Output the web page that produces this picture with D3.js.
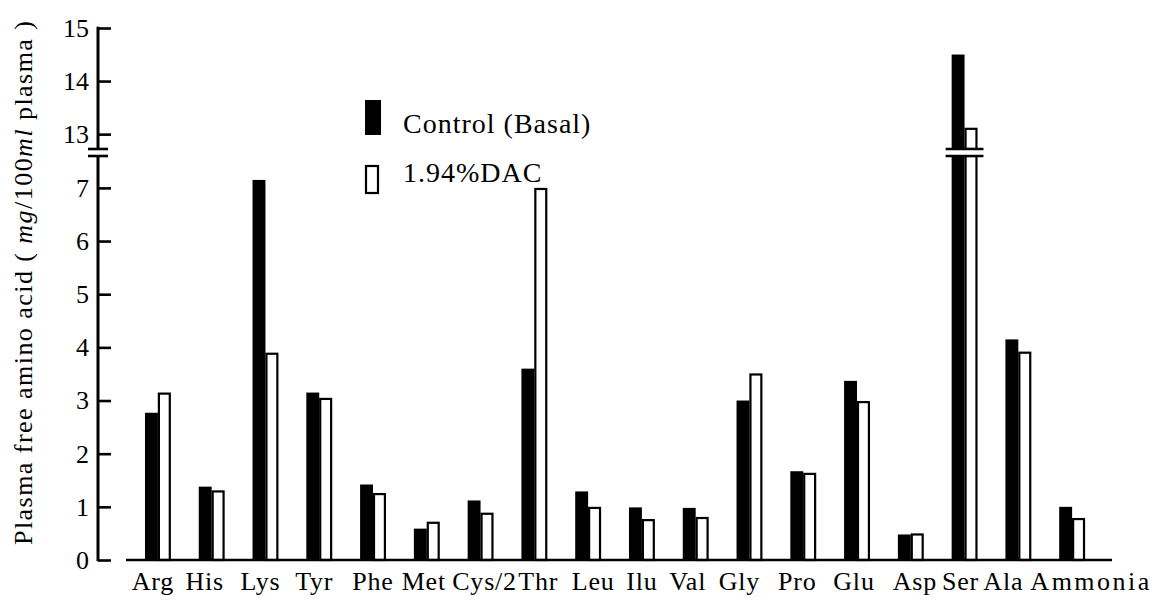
<!DOCTYPE html>
<html>
<head>
<meta charset="utf-8">
<script src="https://cdn.jsdelivr.net/npm/d3@7"></script>
<style>
  body { margin: 0; background: #fff; }
  svg { display: block; }
</style>
</head>
<body>
<svg id="chart" width="1157" height="602"></svg>
<script>
const categories = ["Arg", "His", "Lys", "Tyr", "Phe", "Met", "Cys/2", "Thr", "Leu", "Ilu", "Val", "Gly", "Pro", "Glu", "Asp", "Ser", "Ala", "Ammonia"]
const controlValues = [2.77, 1.38, 7.15, 3.15, 1.42, 0.59, 1.12, 3.6, 1.29, 0.99, 0.98, 3.0, 1.67, 3.37, 0.48, 14.5, 4.15, 1.0]
const dacValues = [3.13, 1.29, 3.88, 3.03, 1.24, 0.70, 0.87, 6.98, 0.98, 0.75, 0.79, 3.49, 1.62, 2.97, 0.48, 13.1, 3.9, 0.77]
const seriesNames = ["Control (Basal)", "1.94%DAC"]
const lowerTicks = [0, 1, 2, 3, 4, 5, 6, 7]
const upperTicks = [13, 14, 15]
const lowerDomain = [0, 7.6]
const upperDomain = [12.72, 15]

const serif = '"Liberation Serif", "Times New Roman", serif'
const svg = d3.select("#chart")

const axisX = 98
const base = 560
const breakLow = 156   // top of lower segment
const breakHigh = 149  // bottom of upper segment

const x = d3.scaleBand()
  .domain(categories)
  .range([131, 1099])
  .paddingInner(0.52)
  .paddingOuter(0.26)

const xSub = d3.scaleBand()
  .domain([0, 1])
  .range([0, x.bandwidth()])

const yLow = d3.scaleLinear().domain(lowerDomain).range([base, breakLow])
const yHigh = d3.scaleLinear().domain(upperDomain).range([breakHigh, 28])

// build bar pieces, split across the break when needed
const bars = []
categories.forEach((c, i) => {
  [controlValues[i], dacValues[i]].forEach((v, s) => {
    const x0 = x(c) + xSub(s)
    if (v <= lowerDomain[1]) {
      bars.push({s, x0, y0: yLow(v), y1: base})
    } else {
      bars.push({s, x0, y0: yLow(lowerDomain[1]), y1: base})
      bars.push({s, x0, y0: yHigh(v), y1: yHigh(upperDomain[0])})
    }
  })
})

const w = xSub.bandwidth()

svg.append("g")
  .selectAll("rect")
  .data(bars)
  .join("rect")
  .attr("x", d => d.s === 0 ? d.x0 : d.x0 + 1)
  .attr("y", d => d.y0)
  .attr("width", d => d.s === 0 ? w : w - 2)
  .attr("height", d => d.y1 - d.y0)
  .attr("fill", d => d.s === 0 ? "#000" : "#fff")
  .attr("stroke", d => d.s === 0 ? "none" : "#000")
  .attr("stroke-width", 2.2)

// break marks across bars that go past the gap
const broken = categories.filter((c, i) => Math.max(controlValues[i], dacValues[i]) > lowerDomain[1])
const brk = svg.append("g")
broken.forEach(c => {
  const bx0 = x(c) - 6, bx1 = x(c) + x.bandwidth() + 6
  brk.append("rect").attr("x", bx0).attr("y", breakHigh).attr("width", bx1 - bx0).attr("height", breakLow - breakHigh).attr("fill", "#fff")
  brk.selectAll(null).data([breakHigh, breakLow]).join("line")
    .attr("x1", bx0).attr("x2", bx1).attr("y1", d => d).attr("y2", d => d)
    .attr("stroke", "#000").attr("stroke-width", 2.6)
})

// baseline
svg.append("line")
  .attr("x1", 126).attr("x2", 1112)
  .attr("y1", base).attr("y2", base)
  .attr("stroke", "#000").attr("stroke-width", 2.6)

// y axis, lower and upper segments
function styleAxis(g) {
  g.select(".domain").remove()
  g.selectAll(".tick line").attr("stroke", "#000").attr("stroke-width", 2.6)
  g.selectAll(".tick text").attr("font-size", 26).attr("fill", "#000").style("font-family", serif)
}

svg.append("g")
  .attr("transform", `translate(${axisX},0)`)
  .call(d3.axisLeft(yLow).tickValues(lowerTicks).tickSizeInner(-13).tickSizeOuter(0).tickPadding(9).tickFormat(d3.format("d")))
  .call(styleAxis)

svg.append("g")
  .attr("transform", `translate(${axisX},0)`)
  .call(d3.axisLeft(yHigh).tickValues(upperTicks).tickSizeInner(-13).tickSizeOuter(0).tickPadding(9).tickFormat(d3.format("d")))
  .call(styleAxis)

svg.append("line")
  .attr("x1", axisX).attr("x2", axisX)
  .attr("y1", yLow(0) + 1.3).attr("y2", breakLow)
  .attr("stroke", "#000").attr("stroke-width", 3)
svg.append("line")
  .attr("x1", axisX).attr("x2", axisX)
  .attr("y1", breakHigh).attr("y2", yHigh(15) - 1.3)
  .attr("stroke", "#000").attr("stroke-width", 3)
svg.append("g")
  .selectAll("line")
  .data([breakHigh, breakLow])
  .join("line")
  .attr("x1", axisX - 10).attr("x2", axisX + 10)
  .attr("y1", d => d).attr("y2", d => d)
  .attr("stroke", "#000").attr("stroke-width", 2.6)

// x axis labels (the printed labels sit a little off the bar centres)
const labelNudge = {"Arg": -5, "His": -7, "Lys": -5, "Tyr": -5, "Met": -3, "Cys/2": 4, "Thr": 4, "Leu": 5,
  "Val": -8, "Gly": -10, "Pro": -6, "Glu": -3, "Asp": 4, "Ser": -4, "Ala": -15, "Ammonia": 19}
const gx = svg.append("g")
  .attr("transform", `translate(0,${base})`)
  .call(d3.axisBottom(x).tickSize(0).tickPadding(12))
gx.select(".domain").remove()
gx.selectAll(".tick text")
  .attr("font-size", 26)
  .style("font-family", serif)
  .attr("letter-spacing", d => d === "Ammonia" ? 2.5 : 0.8)
  .attr("fill", "#000")
  .attr("dx", d => labelNudge[d] || 0)

// y title
const title = svg.append("text")
  .attr("transform", "translate(32,283) rotate(-90)")
  .attr("text-anchor", "middle")
  .attr("font-size", 26)
  .style("font-family", serif)
  .attr("textLength", 524)
  .attr("lengthAdjust", "spacing")
title.append("tspan").text("Plasma free amino acid ( ")
title.append("tspan").attr("font-style", "italic").text("mg")
title.append("tspan").text("/100")
title.append("tspan").attr("font-style", "italic").text("ml")
title.append("tspan").text(" plasma )")

// legend
const legend = svg.append("g")
legend.selectAll("rect")
  .data(seriesNames)
  .join("rect")
  .attr("x", (d, i) => i === 0 ? 365 : 366)
  .attr("y", (d, i) => i === 0 ? 100 : 166)
  .attr("width", (d, i) => i === 0 ? 16 : 12)
  .attr("height", (d, i) => i === 0 ? 35 : 27)
  .attr("fill", (d, i) => i === 0 ? "#000" : "#fff")
  .attr("stroke", "#000")
  .attr("stroke-width", (d, i) => i === 0 ? 0 : 2.2)
legend.selectAll("text")
  .data(seriesNames)
  .join("text")
  .attr("x", 403)
  .attr("y", (d, i) => i === 0 ? 133 : 182)
  .attr("font-size", 28)
  .style("font-family", serif)
  .attr("letter-spacing", 1)
  .text(d => d)
</script>
</body>
</html>
